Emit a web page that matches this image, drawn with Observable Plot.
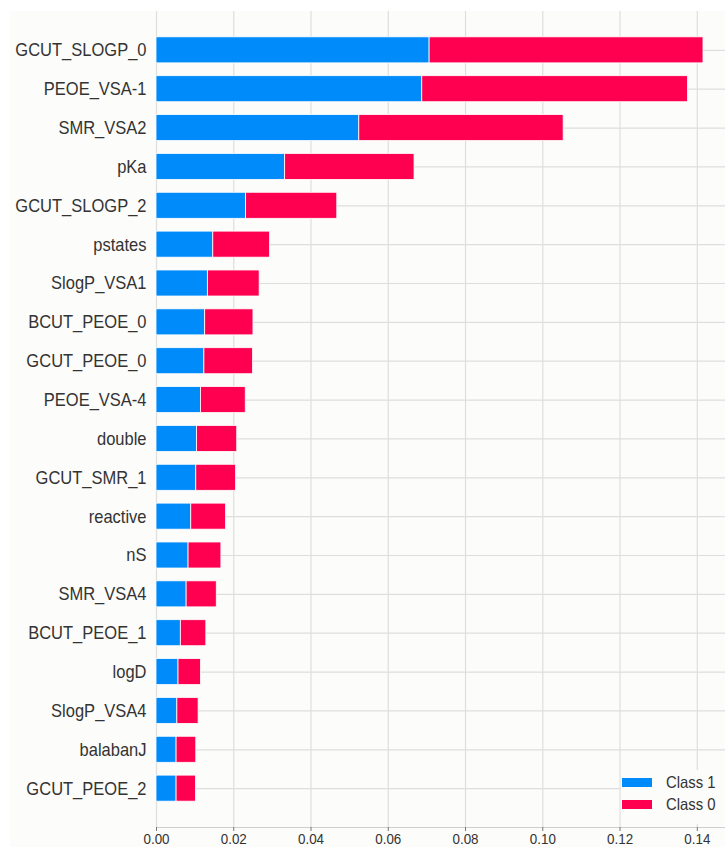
<!DOCTYPE html>
<html>
<head>
<meta charset="utf-8">
<script src="https://cdn.jsdelivr.net/npm/d3@7"></script>
<script src="https://cdn.jsdelivr.net/npm/@observablehq/plot@0.6"></script>
<style>
  html, body { margin: 0; padding: 0; background: #ffffff; }
  #wrap { position: relative; width: 725px; height: 847px; overflow: hidden; }
  #bg { position: absolute; left: 10px; top: 11px; width: 715px; height: 836px; background: #fcfcfa; }
  #chart { position: absolute; left: 0; top: 0; }
  #legend { position: absolute; left: 621px; top: 770px; width: 104px; height: 54px; background: #fcfcfa;
            font-family: "Liberation Sans", Arial, sans-serif; font-size: 16.5px; color: #333; }
  .item { position: absolute; left: 1px; height: 21px; display: flex; align-items: center; white-space: nowrap; }
  .sw { width: 30px; height: 9px; margin-right: 14px; flex: none; }
  .lt { display: inline-block; transform: scaleX(0.9); transform-origin: left center; }
</style>
</head>
<body>
<div id="wrap">
  <div id="bg"></div>
  <div id="chart"></div>
  <div id="legend"></div>
</div>
<script>
const features = ["GCUT_SLOGP_0","PEOE_VSA-1","SMR_VSA2","pKa","GCUT_SLOGP_2","pstates","SlogP_VSA1",
  "BCUT_PEOE_0","GCUT_PEOE_0","PEOE_VSA-4","double","GCUT_SMR_1","reactive","nS","SMR_VSA4",
  "BCUT_PEOE_1","logD","SlogP_VSA4","balabanJ","GCUT_PEOE_2"];
const class1 = [0.0707,0.0688,0.0525,0.0333,0.0232,0.0147,0.0133,0.0126,0.0124,0.0115,0.0105,0.0103,
  0.0090,0.0083,0.0078,0.0063,0.0057,0.0054,0.0052,0.0052];
const class0 = [0.0709,0.0688,0.0529,0.0335,0.0236,0.0147,0.0134,0.0125,0.0126,0.0116,0.0104,0.0103,
  0.0090,0.0085,0.0078,0.0066,0.0058,0.0055,0.0051,0.0050];
const classes = ["Class 1","Class 0"];
const colors = ["#008bfb","#ff0051"];
const xTicks = [0,0.02,0.04,0.06,0.08,0.10,0.12,0.14];

const rows = [];
features.forEach((f,i) => rows.push({feature:f, cls:"Class 1", value:class1[i]}));
features.forEach((f,i) => rows.push({feature:f, cls:"Class 0", value:class0[i]}));

const chart = Plot.plot({
  width: 725,
  height: 847,
  marginLeft: 156,
  marginRight: 0,
  marginTop: 11,
  marginBottom: 20,
  style: {background: "transparent", fontFamily: "'Liberation Sans', Arial, sans-serif", color: "#333"},
  x: {domain: [0, 0.1473], ticks: xTicks, tickFormat: d3.format(".2f")},
  y: {domain: features, paddingInner: 0.33, paddingOuter: 0.665, align: 0.5, round: false},
  color: {domain: classes, range: colors},
  marks: [
    Plot.gridX(xTicks, {stroke: "#dedede", strokeOpacity: 1, strokeWidth: 1.2}),
    Plot.gridY({stroke: "#dedede", strokeOpacity: 1, strokeWidth: 1.2}),
    Plot.frame({anchor: "bottom", stroke: "#cfcfcf", strokeWidth: 1.2}),
    Plot.barX(rows, {x: "value", y: "feature", fill: "cls", z: "cls", order: classes, stroke: "#ffffff", strokeWidth: 0.8}),
    Plot.axisY({tickSize: 0, tickPadding: 10, fontSize: 18.5, label: null, fill: "#333"}),
    Plot.axisX({ticks: xTicks, tickFormat: d3.format(".2f"), tickSize: 4, tickPadding: 3, fontSize: 14, label: null, stroke: "#777", fill: "#333"})
  ]
});
document.getElementById("chart").appendChild(chart);

// Narrow the glyphs horizontally to match the reference's condensed text look
function squeeze(sel, factor) {
  chart.querySelectorAll(sel).forEach(t => {
    const w = t.getComputedTextLength();
    if (w > 0) {
      t.setAttribute("textLength", (w * factor).toFixed(2));
      t.setAttribute("lengthAdjust", "spacingAndGlyphs");
    }
  });
}
squeeze('g[aria-label="y-axis tick label"] text', 0.892);
squeeze('g[aria-label="x-axis tick label"] text', 0.957);

const legend = document.getElementById("legend");
classes.forEach((c, i) => {
  const item = document.createElement("div");
  item.className = "item";
  item.style.top = (2 + i * 21.5) + "px";
  const sw = document.createElement("span");
  sw.className = "sw";
  sw.style.background = colors[i];
  const t = document.createElement("span");
  t.className = "lt";
  t.textContent = c;
  item.appendChild(sw);
  item.appendChild(t);
  legend.appendChild(item);
});
</script>
</body>
</html>
